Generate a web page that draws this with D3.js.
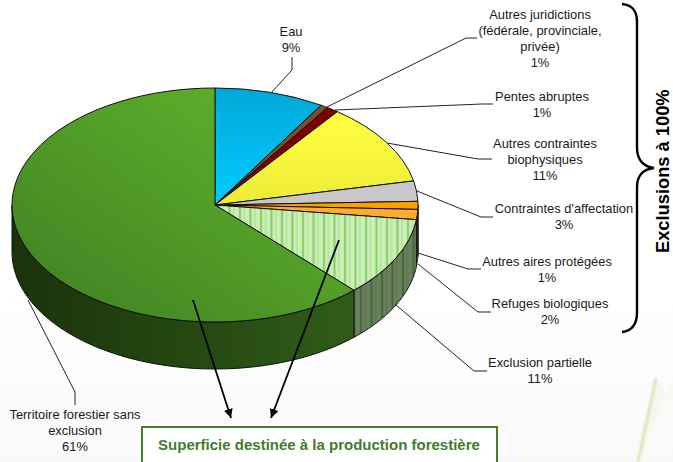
<!DOCTYPE html>
<html>
<head>
<meta charset="utf-8">
<script src="https://cdn.jsdelivr.net/npm/d3@7"></script>
<style>
html, body { margin: 0; padding: 0; background: #fff; overflow: hidden; }
text { font-family: "Liberation Sans", Arial, sans-serif; }
</style>
</head>
<body>
<svg id="chart"></svg>
<script>
const width = 673;
const height = 462;

// slices, clockwise from the top
const categories = ["Eau", "Autres juridictions", "Pentes abruptes", "Autres contraintes", "Contraintes d'affectation",
    "Autres aires protégées", "Refuges biologiques", "Exclusion partielle", "Territoire forestier sans exclusion"];
const sliceValues = [8.75, 0.6, 0.95, 11.4, 2.8, 1.1, 1.4, 11, 62];
const percentLabels = ["9%", "1%", "1%", "11%", "3%", "1%", "2%", "11%", "61%"];

// label lines and leader lines, same order as categories
const labelLines = [
    ["Eau", "9%"],
    ["Autres juridictions", "(fédérale, provinciale,", "privée)", "1%"],
    ["Pentes abruptes", "1%"],
    ["Autres contraintes", "biophysiques", "11%"],
    ["Contraintes d'affectation", "3%"],
    ["Autres aires protégées", "1%"],
    ["Refuges biologiques", "2%"],
    ["Exclusion partielle", "11%"],
    ["Territoire forestier sans", "exclusion", "61%"]
];
const labelPos = [[291, 36], [540, 19], [542, 101], [545, 148], [564, 213], [547, 266], [550, 308], [540, 367], [75, 419]];
const leaders = [
    [[271, 93], [292, 70], [292, 57]],
    [[327, 107], [466, 38], [477, 38]],
    [[335, 110], [482, 104], [493, 104]],
    [[387, 143], [478, 159], [492, 159]],
    [[417, 191], [481, 217], [493, 217]],
    [[418, 253], [468, 269], [481, 269]],
    [[418, 264], [478, 312], [491, 312]],
    [[396, 305], [474, 371], [487, 371]],
    [[28, 300], [75, 392], [75, 405]]
];

// pie geometry
const cx = 215, cy = 205, rx = 203, ry = 117, depth = 47;

const svg = d3.select("#chart").attr("width", width).attr("height", height)
    .style("display", "block");
const defs = svg.append("defs");

function linGrad(id, x1, y1, x2, y2, c1, c2) {
    const g = defs.append("linearGradient").attr("id", id)
        .attr("x1", x1).attr("y1", y1).attr("x2", x2).attr("y2", y2);
    g.append("stop").attr("offset", 0).attr("stop-color", c1);
    g.append("stop").attr("offset", 1).attr("stop-color", c2);
}
linGrad("bg", 0, 0, 0, 1, "#ffffff", "#f9f9f9");
linGrad("gBlue", 0, 0, 0, 1, "#00a8d8", "#00ccff");
linGrad("gYellow", 0, 0, 0, 1, "#ffff40", "#ecec38");
linGrad("gGreen", 1, 0, 0, 1, "#64b82e", "#3f7f22");
linGrad("gSide", 0, 0, 1, 0, "#1a330b", "#305c18");
linGrad("gWedge", 0, 0, 1, 1, "#e6edcc", "#ffffff");

const stripes = defs.append("pattern").attr("id", "pStripes").attr("patternUnits", "userSpaceOnUse")
    .attr("width", 10.5).attr("height", 10);
stripes.append("rect").attr("width", 10.5).attr("height", 10).attr("fill", "#ccefb6");
stripes.append("rect").attr("x", 3).attr("width", 2).attr("height", 10).attr("fill", "#84cc66");
stripes.append("rect").attr("x", 8).attr("width", 1).attr("height", 10).attr("fill", "#a8dc90");

const stripesDark = defs.append("pattern").attr("id", "pStripesDark").attr("patternUnits", "userSpaceOnUse")
    .attr("width", 10.5).attr("height", 10);
stripesDark.append("rect").attr("width", 10.5).attr("height", 10).attr("fill", "#6c7f60");
stripesDark.append("rect").attr("x", 3).attr("width", 2).attr("height", 10).attr("fill", "#3f6a30");
stripesDark.append("rect").attr("x", 8).attr("width", 1).attr("height", 10).attr("fill", "#56744a");

const cross = defs.append("pattern").attr("id", "pCross").attr("patternUnits", "userSpaceOnUse")
    .attr("width", 5).attr("height", 5);
cross.append("rect").attr("width", 5).attr("height", 5).attr("fill", "#ff9800");
cross.append("path").attr("d", "M0 0L5 5M5 0L0 5").attr("stroke", "#ffd890").attr("stroke-width", 0.7);

const topFills = ["url(#gBlue)", "#7b4f2a", "#7c0000", "url(#gYellow)", "#c8c8c8", "#ffa000", "url(#pCross)", "url(#pStripes)", "url(#gGreen)"];
const sideFills = ["#00607c", "#3c2814", "#400000", "#808020", "#666666", "#8a5600", "#8a5600", "url(#pStripesDark)", "url(#gSide)"];

// page background with the faint corner shape
svg.append("rect").attr("width", width).attr("height", height).attr("fill", "#fff");
svg.append("rect").attr("y", 285).attr("width", width).attr("height", height - 285).attr("fill", "url(#bg)");

const blur = defs.append("filter").attr("id", "soft");
blur.append("feGaussianBlur").attr("stdDeviation", 0.8);
svg.append("path")
    .attr("d", d3.line()([[638, 462], [656, 378], [673, 404], [673, 380]]) + "Z")
    .attr("fill", "url(#gWedge)").attr("opacity", 0.5).attr("filter", "url(#soft)");
svg.append("path")
    .attr("d", d3.line()([[638, 462], [656, 378]]))
    .attr("fill", "none").attr("stroke", "#d6e2ac").attr("stroke-width", 2.5).attr("filter", "url(#soft)");

const pie = d3.pie().sort(null).value(d => d);
const slices = pie(sliceValues);

// point on the rim for a clockwise angle from the top
const rim = (a, dy = 0) => [cx + rx * Math.sin(a), cy - ry * Math.cos(a) + dy];
const line = d3.line();

// side wall, only the front half of the pie shows
const sideGroup = svg.append("g");
slices.forEach((d, i) => {
    const a0 = Math.max(d.startAngle, Math.PI / 2);
    const a1 = Math.min(d.endAngle, 3 * Math.PI / 2);
    if (a1 <= a0) return;
    const steps = d3.range(0, 61).map(k => a0 + (a1 - a0) * k / 60);
    const pts = steps.map(a => rim(a)).concat(steps.slice().reverse().map(a => rim(a, depth)));
    sideGroup.append("path")
        .attr("d", line(pts) + "Z")
        .attr("fill", sideFills[i])
        .attr("stroke", "#111")
        .attr("stroke-width", 1);
});

// top of the pie
const arc = d3.arc().innerRadius(0).outerRadius(rx);
svg.append("g")
    .attr("transform", `translate(${cx},${cy}) scale(1,${ry / rx})`)
    .selectAll("path")
    .data(slices)
    .enter()
    .append("path")
    .attr("d", arc)
    .attr("fill", (d, i) => topFills[i])
    .attr("stroke", "#111")
    .attr("stroke-width", 1)
    .attr("vector-effect", "non-scaling-stroke");

// leader lines
svg.append("g").selectAll("path")
    .data(leaders)
    .enter()
    .append("path")
    .attr("d", d => line(d))
    .attr("fill", "none")
    .attr("stroke", "#222")
    .attr("stroke-width", 1);

// labels
const labels = svg.append("g");
labelLines.forEach((lines, i) => {
    const t = labels.append("text")
        .attr("text-anchor", "middle")
        .attr("font-size", 12.9)
        .attr("fill", "#1a1a1a");
    lines.forEach((s, k) => {
        t.append("tspan")
            .attr("x", labelPos[i][0])
            .attr("y", labelPos[i][1] + k * 16)
            .text(s);
    });
});

// brace on the right
svg.append("path")
    .attr("d", "M622 4C632 5 637 10 637 22L637 148C637 160 644 167 654 168C644 169 637 175 637 187L637 312C637 325 632 331 622 332")
    .attr("fill", "none")
    .attr("stroke", "#000")
    .attr("stroke-width", 2.4);

svg.append("text")
    .attr("transform", "translate(669,253) rotate(-90)")
    .attr("font-size", 18.3)
    .attr("font-weight", "bold")
    .attr("fill", "#000")
    .text("Exclusions à 100%");

// arrows to the box
const head = defs.append("marker").attr("id", "head").attr("markerUnits", "userSpaceOnUse")
    .attr("viewBox", "0 0 10 10").attr("refX", 10).attr("refY", 5)
    .attr("markerWidth", 9).attr("markerHeight", 9).attr("orient", "auto");
head.append("path").attr("d", "M0 0L10 5L0 10Z").attr("fill", "#000");

svg.append("g").selectAll("path")
    .data([[[193, 300], [231, 418]], [[339, 240], [271, 418]]])
    .enter()
    .append("path")
    .attr("d", d => line(d))
    .attr("stroke", "#000")
    .attr("stroke-width", 1.8)
    .attr("marker-end", "url(#head)");

// box at the bottom, runs off the page
svg.append("rect")
    .attr("x", 142).attr("y", 427)
    .attr("width", 355).attr("height", 60)
    .attr("fill", "#fff")
    .attr("stroke", "#4a7a2c")
    .attr("stroke-width", 2);

svg.append("text")
    .attr("x", 319).attr("y", 450)
    .attr("text-anchor", "middle")
    .attr("font-size", 15)
    .attr("font-weight", "bold")
    .attr("fill", "#437a2c")
    .text("Superficie destinée à la production forestière");
</script>
</body>
</html>
